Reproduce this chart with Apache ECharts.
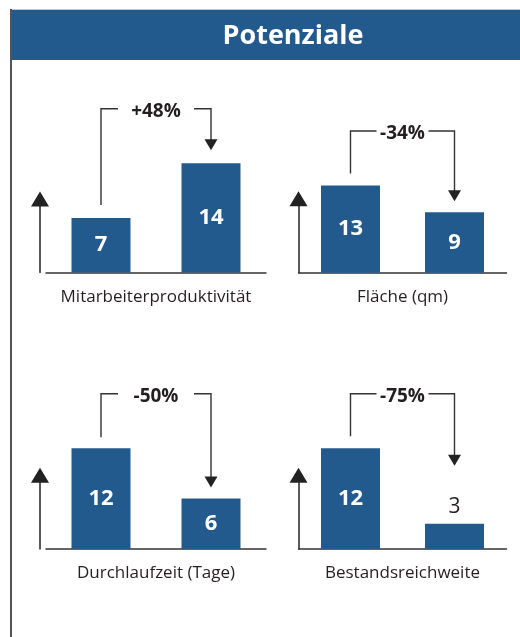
<!DOCTYPE html>
<html>
<head>
<meta charset="utf-8">
<script src="https://cdn.jsdelivr.net/npm/echarts@6/dist/echarts.min.js"></script>
<style>
html,body{margin:0;padding:0;background:#fff;}
#c{width:520px;height:637px;}
</style>
</head>
<body>
<div id="c"></div>
<script>
// ---- data ----
const headerTitle = 'Potenziale';
const chartTitles = ['Mitarbeiterproduktivität', 'Fläche (qm)', 'Durchlaufzeit (Tage)', 'Bestandsreichweite'];
const categories = ['vorher', 'nachher'];
const beforeValues = [7, 13, 12, 12];
const afterValues = [14, 9, 6, 3];
const changeLabels = ['+48%', '-34%', '-50%', '-75%'];

// ---- layout (positions / styles only) ----
const panels = [
  {left: 46,    top: 199,   width: 220, height: 73.5, max: 9.42, offset: 6, hw: 38, leftGap: 13, tipGap: 13},
  {left: 298.5, top: 198.7, width: 208, height: 74,   max: 11.04, offset: 0, hw: 26, leftGap: 12, tipGap: 11},
  {left: 46,    top: 475.2, width: 220, height: 73.8, max: 8.79, offset: 6, hw: 38, leftGap: 11, tipGap: 11},
  {left: 298.5, top: 475.2, width: 208, height: 73.8, max: 8.79, offset: 0, hw: 26, leftGap: 12, tipGap: 58}
];
const BLUE = '#225a8e';
const DARK = '#231f20';
const FONT = '"Open Sans", "Noto Sans", sans-serif';

const chart = echarts.init(document.getElementById('c'), null, {renderer: 'canvas'});

const grids = [], xAxes = [], yAxes = [], series = [];
panels.forEach(function (p, i) {
  grids.push({left: p.left, top: p.top, width: p.width, height: p.height, containLabel: false});
  xAxes.push({
    type: 'category', gridIndex: i, data: categories,
    axisLine: {show: true, lineStyle: {color: '#333', width: 1.5}},
    axisTick: {show: false}, axisLabel: {show: false},
    name: chartTitles[i], nameLocation: 'middle', nameGap: 16,
    nameTextStyle: {fontSize: 17, color: DARK, fontFamily: FONT}
  });
  yAxes.push({
    type: 'value', gridIndex: i, min: 0, max: p.max, offset: p.offset,
    axisLine: {show: true, symbol: ['none', 'triangle'], symbolSize: [18, 15],
      lineStyle: {color: '#222', width: 1.5}},
    axisTick: {show: false}, axisLabel: {show: false}, splitLine: {show: false}
  });
  const vals = [beforeValues[i], afterValues[i]];
  series.push({
    type: 'bar', xAxisIndex: i, yAxisIndex: i, barWidth: 59, clip: false,
    itemStyle: {color: BLUE},
    data: vals.map(function (v) {
      const px = v / p.max * p.height;
      if (px < 30) {
        return {value: v, label: {position: 'top', color: DARK, fontWeight: 'normal', fontSize: 21, distance: 6}};
      }
      return v;
    }),
    label: {show: true, position: 'inside', color: '#fff', fontWeight: 'bold', fontSize: 22, fontFamily: FONT},
    silent: true
  });
  series.push({
    type: 'custom', xAxisIndex: i, yAxisIndex: i, clip: false, silent: true,
    dimensions: ['x', 'a', 'b'],
    encode: {x: 0, y: 1},
    data: [[0, beforeValues[i], afterValues[i]]],
    renderItem: function (params, api) {
      const a = api.coord([0, api.value(1)]);
      const b = api.coord([1, api.value(2)]);
      const yB = Math.min(a[1], b[1]) - 54.5;
      const cx = (a[0] + b[0]) / 2;
      const tip = b[1] - p.tipGap;
      const ls = {stroke: '#333', lineWidth: 1.4, fill: null};
      return {
        type: 'group',
        children: [
          {type: 'polyline', shape: {points: [[a[0], a[1] - p.leftGap], [a[0], yB], [cx - p.hw, yB]]}, style: ls},
          {type: 'polyline', shape: {points: [[cx + p.hw, yB], [b[0], yB], [b[0], tip - 10]]}, style: ls},
          {type: 'polygon', shape: {points: [[b[0] - 6.5, tip - 11], [b[0] + 6.5, tip - 11], [b[0], tip]]}, style: {fill: '#222'}},
          {type: 'text', style: {text: changeLabels[i], x: cx, y: yB + 3, align: 'center', verticalAlign: 'middle',
            fontSize: 19, fontWeight: 'bold', fontFamily: FONT, fill: DARK}}
        ]
      };
    }
  });
});

chart.setOption({
  animation: false,
  backgroundColor: '#fff',
  grid: grids, xAxis: xAxes, yAxis: yAxes, series: series,
  graphic: [
    {type: 'line', shape: {x1: 10, y1: 9.5, x2: 520, y2: 9.5}, style: {stroke: '#c8c8c8', lineWidth: 1}},
    {type: 'rect', shape: {x: 11, y: 10, width: 509, height: 50}, style: {fill: BLUE}},
    {type: 'line', shape: {x1: 11, y1: 9, x2: 11, y2: 637}, style: {stroke: '#555', lineWidth: 2}},
    {type: 'text', style: {text: headerTitle, x: 293, y: 36, align: 'center', verticalAlign: 'middle',
      fontSize: 27, fontWeight: 'bold', fontFamily: FONT, fill: '#fff'}}
  ]
});
</script>
</body>
</html>
